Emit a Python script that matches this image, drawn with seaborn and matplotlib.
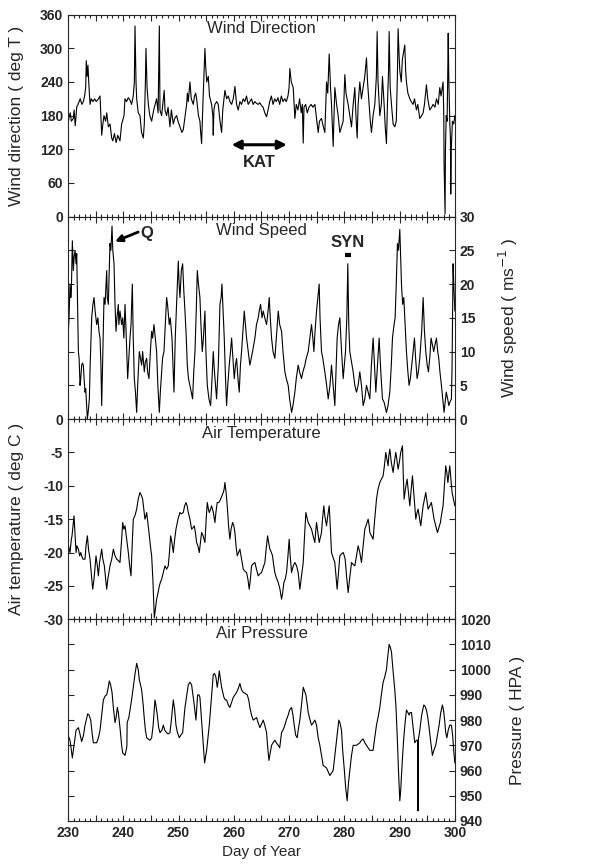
import matplotlib
matplotlib.use('Agg')
import matplotlib.pyplot as plt
import seaborn as sns
from matplotlib.ticker import MultipleLocator, FuncFormatter

# --- data (day of year, value) ---
wdir_day = [230.0, 230.2, 230.4, 230.6, 230.96, 231.1, 231.3, 231.57, 231.8, 232.0, 232.2, 232.5, 232.77, 233.0,
            233.19, 233.3, 233.45, 233.6, 233.8, 233.98, 234.2, 234.5, 234.8, 235.1, 235.5, 235.79, 236.09, 236.3,
            236.5, 236.8, 237.0, 237.3, 237.6, 237.9, 238.1, 238.4, 238.7, 239.0, 239.4, 239.7, 240.13, 240.3, 240.6,
            240.9, 241.2, 241.5, 241.8, 242.0, 242.12, 242.3, 242.42, 242.7, 243.02, 243.3, 243.62, 243.8, 244.0,
            244.1, 244.3, 244.53, 244.8, 245.13, 245.5, 246.03, 246.3, 246.52, 246.64, 246.94, 247.2, 247.4, 247.54,
            247.84, 248.1, 248.44, 248.7, 249.05, 249.3, 249.65, 249.9, 250.25, 250.6, 250.86, 251.2, 251.46, 251.6,
            251.76, 252.06, 252.3, 252.66, 252.9, 253.1, 253.27, 253.6, 253.87, 254.0, 254.17, 254.4, 254.77, 254.9,
            255.1, 255.38, 255.6, 255.98, 256.2, 256.28, 256.4, 256.58, 256.9, 257.18, 257.5, 257.79, 258.0, 258.39,
            258.7, 258.99, 259.3, 259.6, 259.9, 260.2, 260.5, 260.8, 261.1, 261.4, 261.7, 262.0, 262.3, 262.6, 262.9,
            263.2, 263.5, 263.8, 264.1, 264.4, 264.7, 265.0, 265.3, 265.6, 265.93, 266.2, 266.5, 266.8, 267.1, 267.4,
            267.7, 268.0, 268.3, 268.6, 268.9, 269.2, 269.5, 269.8, 270.0, 270.14, 270.4, 270.75, 271.05, 271.3,
            271.6, 271.9, 272.2, 272.4, 272.56, 272.7, 273.0, 273.3, 273.6, 274.0, 274.3, 274.67, 274.97, 275.27,
            275.5, 275.87, 276.2, 276.47, 276.78, 277.0, 277.26, 277.5, 277.68, 277.85, 277.98, 278.2, 278.28, 278.6,
            278.88, 279.19, 279.5, 279.79, 280.09, 280.3, 280.69, 281.0, 281.3, 281.6, 281.9, 282.1, 282.32, 282.5,
            282.8, 283.1, 283.41, 283.7, 284.01, 284.2, 284.49, 284.7, 284.91, 285.2, 285.52, 285.8, 285.94, 286.1,
            286.42, 286.7, 286.9, 287.2, 287.4, 287.62, 287.8, 288.0, 288.11, 288.3, 288.53, 288.83, 289.13, 289.4,
            289.6, 289.73, 289.9, 290.04, 290.3, 290.5, 290.94, 291.1, 291.24, 291.5, 291.85, 292.1, 292.45, 292.7,
            293.05, 293.3, 293.65, 294.0, 294.26, 294.5, 294.86, 295.1, 295.46, 295.8, 296.06, 296.4, 296.67, 297.0,
            297.27, 297.5, 297.87, 298.0, 298.05, 298.23, 298.3, 298.44, 298.6, 298.7, 298.8, 298.9, 299.08, 299.2,
            299.26, 299.35, 299.56, 299.8, 300.0]
wdir_val = [165, 178, 185, 170, 175, 190, 162, 195, 200, 205, 210, 200, 205, 215,
            230, 278, 250, 270, 230, 200, 210, 205, 210, 205, 210, 215, 145, 165,
            180, 170, 185, 160, 165, 140, 135, 148, 132, 145, 135, 165, 180, 210, 205,
            212, 208, 200, 215, 240, 340, 240, 210, 185, 180, 150, 140, 165, 240,
            300, 230, 200, 180, 170, 190, 210, 185, 340, 190, 180, 205, 225, 190,
            180, 195, 160, 190, 165, 175, 180, 170, 160, 150, 155, 180, 200, 220,
            205, 240, 210, 200, 215, 220, 210, 180, 170, 150, 130, 200, 300, 270,
            240, 250, 215, 200, 180, 145, 190, 200, 205, 200, 170, 150, 190, 225,
            210, 215, 205, 200, 210, 232, 200, 190, 205, 200, 210, 205, 215, 200, 205,
            210, 200, 205, 202, 200, 203, 198, 195, 185, 178, 190, 205, 215, 200, 210,
            205, 212, 200, 215, 205, 210, 205, 215, 230, 264, 240, 230, 175, 200,
            190, 210, 185, 200, 131, 195, 200, 185, 195, 200, 195, 200, 175, 150,
            170, 175, 160, 150, 240, 220, 290, 230, 200, 160, 125, 200, 230, 200,
            180, 150, 160, 170, 253, 220, 200, 180, 160, 200, 230, 180, 140, 200,
            240, 210, 230, 250, 283, 240, 200, 170, 150, 180, 200, 250, 330, 240,
            180, 200, 250, 200, 160, 130, 200, 260, 330, 230, 200, 165, 160, 170,
            250, 335, 290, 260, 240, 280, 306, 260, 240, 220, 210, 205, 200, 210,
            190, 200, 175, 180, 185, 200, 235, 210, 190, 195, 200, 195, 210, 200,
            230, 215, 240, 180, 94, 5, 120, 180, 170, 240, 327, 250, 170, 140,
            40, 120, 170, 165, 180]

wspd_day = [230.0, 230.18, 230.36, 230.5, 230.6, 230.78, 230.96, 231.1, 231.27, 231.45, 231.57, 231.7, 231.87, 232.0,
            232.17, 232.3, 232.47, 232.6, 232.77, 232.9, 233.07, 233.2, 233.3, 233.5, 233.7, 233.86, 234.0, 234.28,
            234.5, 234.7, 234.9, 235.18, 235.4, 235.6, 235.79, 235.95, 236.09, 236.3, 236.51, 236.7, 236.87, 237.0,
            237.1, 237.29, 237.45, 237.59, 237.75, 237.96, 238.1, 238.32, 238.5, 238.68, 238.85, 239.1, 239.2, 239.4,
            239.7, 239.9, 240.1, 240.31, 240.5, 240.79, 241.0, 241.21, 241.4, 241.63, 241.8, 241.99, 242.2, 242.42,
            242.6, 242.9, 243.1, 243.32, 243.5, 243.8, 244.0, 244.23, 244.4, 244.65, 244.9, 245.13, 245.3, 245.55,
            245.8, 246.03, 246.25, 246.52, 246.7, 246.94, 247.1, 247.36, 247.6, 247.84, 248.0, 248.32, 248.5, 248.81,
            249.0, 249.17, 249.4, 249.65, 249.8, 249.95, 250.1, 250.25, 250.5, 250.74, 250.95, 251.16, 251.4, 251.58,
            251.8, 252.06, 252.3, 252.54, 252.75, 252.97, 253.2, 253.39, 253.6, 253.87, 254.05, 254.29, 254.5, 254.77,
            254.95, 255.2, 255.5, 255.8, 256.0, 256.28, 256.5, 256.88, 257.2, 257.49, 257.7, 257.85, 258.0, 258.27,
            258.5, 258.69, 258.9, 259.17, 259.4, 259.6, 259.85, 260.08, 260.3, 260.5, 260.75, 260.98, 261.2, 261.4,
            261.65, 261.89, 262.1, 262.31, 262.6, 262.91, 263.15, 263.39, 263.6, 263.82, 264.1, 264.42, 264.6, 264.84,
            265.1, 265.32, 265.6, 265.93, 266.2, 266.41, 266.6, 266.83, 267.1, 267.43, 267.7, 268.04, 268.3, 268.64,
            268.9, 269.24, 269.5, 269.84, 270.1, 270.45, 270.7, 271.05, 271.3, 271.65, 271.9, 272.25, 272.5, 272.86,
            273.1, 273.46, 273.75, 274.06, 274.3, 274.49, 274.7, 274.97, 275.2, 275.45, 275.6, 275.87, 276.1, 276.47,
            276.8, 277.08, 277.4, 277.68, 277.98, 278.28, 278.5, 278.7, 278.95, 279.19, 279.5, 279.79, 280.0, 280.21,
            280.45, 280.63, 280.8, 280.99, 281.3, 281.6, 281.9, 282.2, 282.5, 282.8, 283.1, 283.41, 283.7, 284.01,
            284.3, 284.61, 284.9, 285.21, 285.45, 285.7, 286.0, 286.3, 286.6, 286.9, 287.2, 287.62, 287.9, 288.23,
            288.5, 288.71, 289.0, 289.19, 289.4, 289.61, 289.8, 290.04, 290.2, 290.34, 290.55, 290.76, 291.0, 291.24,
            291.5, 291.72, 291.95, 292.21, 292.45, 292.69, 292.9, 293.17, 293.4, 293.65, 294.0, 294.26, 294.5, 294.74,
            295.0, 295.22, 295.45, 295.7, 295.95, 296.18, 296.4, 296.67, 296.9, 297.09, 297.3, 297.57, 297.8, 298.05,
            298.25, 298.44, 298.7, 298.92, 299.1, 299.38, 299.5, 299.68, 299.8, 300.0]
wspd_val = [12, 15, 20, 18, 19, 26.4, 22, 24, 25, 23, 24.5, 18, 10, 9,
            5, 6, 8, 8.3, 8, 6, 4, 4.5, 3, 0, 1.5, 3, 8, 15,
            17, 18, 16, 14, 15, 13, 12, 8, 2, 10, 18, 17, 20, 22,
            18, 17, 22, 26, 25, 28.6, 25, 23, 17, 13, 15, 17, 14, 16,
            14, 15, 12, 17, 13, 6, 9, 12, 14, 20, 12, 6, 4, 1,
            5, 10, 9, 8, 10, 7, 8.5, 9, 7, 6, 10, 13, 12, 14,
            12, 10, 5, 1, 4, 7, 9, 10, 14, 18, 17, 14, 15, 12,
            8, 4, 12, 17, 20, 23.4, 20, 18, 22, 23, 19, 16, 12, 8,
            6, 5, 4, 3, 7, 10, 16, 22, 20, 18, 14, 10, 12, 16,
            10, 5, 3, 2, 5, 10, 7, 3, 8, 17, 18, 20, 17, 12,
            6, 2, 5, 8, 10, 12, 9, 6, 8, 9, 6, 4, 8, 10,
            13, 16, 14, 12, 10, 8, 9, 10, 11, 12, 14, 15, 16, 17,
            15, 16, 15, 14, 16, 18, 15, 12, 10, 9, 12, 16, 14, 13,
            10, 7, 6, 5, 3, 1, 2, 4, 6, 8, 7, 6, 7, 8,
            9, 10, 12, 14, 12, 10, 13, 16, 18, 20, 15, 10, 9, 7,
            5, 3, 5, 8, 5, 2, 7, 12, 14, 15, 10, 6, 8, 10,
            15, 23, 14, 10, 8.5, 7, 5, 4, 5, 7, 5, 2, 3, 5,
            4, 3, 8, 12, 8, 4, 8, 12, 7, 3, 2.5, 1, 2, 4,
            8, 12, 14, 15, 20, 26, 25, 28.1, 24, 20, 17, 18, 14, 10,
            7, 5, 6, 8, 10, 12, 9, 6, 7, 9, 13, 18, 13, 10,
            8, 7, 9, 12, 11, 10, 11, 12, 10, 9, 7, 5, 3, 1,
            2.5, 4, 3, 2, 2.5, 3, 8, 23, 20, 16]

temp_day = [230.0, 230.2, 230.36, 230.6, 230.72, 230.9, 231.08, 231.25, 231.45, 231.6, 231.87, 232.1, 232.3, 232.47,
            232.7, 233.07, 233.25, 233.5, 233.7, 233.98, 234.2, 234.46, 234.7, 234.9, 235.06, 235.3, 235.49, 235.7,
            236.09, 236.3, 236.57, 236.8, 236.99, 237.2, 237.59, 237.9, 238.2, 238.5, 238.8, 239.1, 239.4, 239.7,
            239.89, 240.1, 240.31, 240.6, 240.91, 241.15, 241.39, 241.6, 241.81, 242.1, 242.42, 242.7, 243.02, 243.3,
            243.5, 243.7, 243.92, 244.1, 244.23, 244.45, 244.65, 244.9, 245.13, 245.35, 245.61, 245.8, 246.03, 246.3,
            246.52, 246.7, 246.94, 247.25, 247.54, 247.84, 248.14, 248.35, 248.57, 248.8, 249.05, 249.3, 249.53,
            249.9, 250.25, 250.5, 250.86, 251.1, 251.34, 251.55, 251.76, 252.06, 252.36, 252.6, 252.84, 253.05,
            253.27, 253.5, 253.75, 253.95, 254.17, 254.45, 254.77, 255.0, 255.2, 255.4, 255.56, 255.8, 255.98, 256.3,
            256.58, 256.76, 257.0, 257.3, 257.61, 257.85, 258.09, 258.25, 258.39, 258.6, 258.81, 259.05, 259.29,
            259.5, 259.78, 260.0, 260.2, 260.4, 260.62, 260.85, 261.1, 261.4, 261.71, 262.0, 262.31, 262.55, 262.79,
            263.0, 263.21, 263.5, 263.82, 264.1, 264.42, 264.72, 265.02, 265.3, 265.62, 265.85, 266.11, 266.3,
            266.53, 266.8, 267.01, 267.2, 267.43, 267.7, 268.04, 268.35, 268.64, 268.85, 269.06, 269.3, 269.54,
            269.8, 270.02, 270.2, 270.45, 270.75, 271.05, 271.35, 271.65, 271.8, 271.95, 272.25, 272.56, 272.8,
            273.04, 273.25, 273.46, 273.75, 274.06, 274.35, 274.67, 274.8, 274.97, 275.2, 275.45, 275.65, 275.87,
            276.05, 276.29, 276.47, 276.78, 277.0, 277.26, 277.45, 277.68, 277.98, 278.28, 278.5, 278.7, 278.95,
            279.19, 279.5, 279.79, 280.0, 280.15, 280.4, 280.69, 280.95, 281.3, 281.6, 281.9, 282.2, 282.5, 282.8,
            283.1, 283.4, 283.71, 284.0, 284.31, 284.5, 284.61, 284.9, 285.21, 285.5, 285.82, 286.1, 286.42, 286.7,
            287.02, 287.25, 287.5, 287.7, 287.93, 288.05, 288.23, 288.5, 288.83, 289.05, 289.31, 289.5, 289.73,
            289.95, 290.2, 290.52, 290.65, 290.82, 291.05, 291.36, 291.6, 291.85, 292.1, 292.33, 292.6, 292.93,
            293.17, 293.35, 293.6, 293.83, 294.05, 294.26, 294.5, 294.74, 294.95, 295.16, 295.45, 295.76, 296.0,
            296.24, 296.55, 296.85, 297.1, 297.39, 297.6, 297.87, 298.1, 298.35, 298.55, 298.74, 299.08, 299.3,
            299.5, 299.75, 300.0]
temp_val = [-18.5, -19.5, -20, -18, -17.5, -16, -14.5, -17, -20, -19, -19.5, -20.5, -20, -20.5,
            -21, -21, -19, -17.5, -19.5, -21, -23, -25.5, -24, -22, -20.5, -22, -23.5, -21.5,
            -19.5, -21, -22, -24, -25.5, -24, -22, -21, -19.5, -20.5, -21, -21.2, -21.5, -18,
            -15.5, -16.5, -16, -18, -20, -22, -23.5, -19, -15, -14.5, -13.5, -12, -11, -11.5,
            -12, -13.5, -15, -14.5, -14, -15.5, -17, -19, -20.5, -24, -29.8, -28.5, -27, -26,
            -25, -24.5, -24, -23, -22, -22.5, -22, -20, -17.5, -18.5, -20, -18, -16.5,
            -15, -14, -14.2, -14, -13, -12.5, -13, -14, -15, -16.5, -16.3, -16, -17,
            -18.5, -19, -20, -18.5, -17, -17.5, -18.5, -15, -12.5, -13.5, -14, -13.5, -13, -14,
            -15.5, -14, -12.5, -12.5, -12, -11.5, -11, -10.5, -9.5, -11, -13, -16, -18,
            -16.5, -15.5, -16, -17, -19, -20.5, -20, -19.5, -21, -22.5, -22.8, -23, -24, -25.5,
            -24, -22, -21.7, -21.5, -22.5, -23.5, -23.2, -23, -22.3, -21.5, -19.5, -17.5, -18.5,
            -19.5, -20, -20.5, -21.8, -23, -23.8, -24.5, -25.5, -27, -26, -24.5, -24, -23,
            -20.5, -18, -20.5, -23, -22, -21.5, -22, -23, -24.2, -25.5, -23.5, -21.5, -17.5,
            -14, -14.8, -15.5, -16, -16.5, -17.5, -18.5, -17, -15.5, -17, -18.5, -17.8, -17,
            -15, -13, -14.5, -16, -14.5, -13, -16, -20, -20.8, -21.5, -23.5, -25.5, -23,
            -20.5, -20.2, -20, -20.5, -21, -23.5, -26, -24, -21.5, -21.8, -22, -20.5, -19, -20,
            -21.5, -19, -16.5, -15.8, -15, -16, -17, -17.5, -18, -15, -12, -10.5, -9.5, -9,
            -8.5, -7, -5, -6, -7, -5.5, -4.5, -6.5, -8, -6.5, -5, -6, -7.5,
            -6.5, -5, -4, -8, -12, -10.5, -9, -11, -13, -10.5, -8.5, -11.5, -15,
            -14, -13.5, -14.8, -16, -14.5, -13, -12, -11, -12.3, -13.5, -13, -12.5, -13.8,
            -15, -16, -17, -16.3, -15.5, -14.3, -13, -10, -7, -8, -9.5, -7, -9,
            -11, -12, -13]

pres_day = [230.0, 230.36, 230.6, 230.78, 231.08, 231.45, 231.87, 232.1, 232.47, 232.8, 233.07, 233.3, 233.56, 233.8,
            234.1, 234.35, 234.58, 235.18, 235.5, 235.79, 236.1, 236.39, 236.7, 236.99, 237.2, 237.47, 237.7, 237.96,
            238.2, 238.5, 238.7, 238.92, 239.1, 239.4, 239.7, 239.89, 240.31, 240.6, 240.65, 240.7, 241.0, 241.21,
            241.5, 241.81, 242.1, 242.42, 242.7, 242.9, 243.32, 243.6, 243.74, 244.0, 244.23, 244.5, 244.83, 245.13,
            245.4, 245.73, 245.9, 246.15, 246.4, 246.64, 247.0, 247.24, 247.5, 247.84, 248.1, 248.44, 248.7, 249.05,
            249.3, 249.53, 249.8, 250.13, 250.4, 250.74, 251.16, 251.5, 251.76, 252.06, 252.36, 252.6, 252.78, 253.15,
            253.45, 253.7, 253.87, 254.1, 254.29, 254.5, 254.71, 255.08, 255.56, 255.98, 256.28, 256.5, 256.76, 257.0,
            257.2, 257.37, 257.6, 257.79, 258.21, 258.45, 258.69, 259.0, 259.29, 259.6, 259.9, 260.2, 260.5, 260.8,
            261.1, 261.4, 261.71, 262.1, 262.43, 262.7, 262.91, 263.2, 263.51, 263.8, 264.12, 264.4, 264.72, 265.02,
            265.32, 265.6, 265.93, 266.1, 266.35, 266.6, 266.83, 267.1, 267.43, 267.7, 268.04, 268.3, 268.64, 269.0,
            269.24, 269.5, 269.84, 270.1, 270.45, 270.7, 270.93, 271.2, 271.47, 271.65, 271.95, 272.25, 272.56, 272.8,
            273.04, 273.3, 273.46, 273.8, 274.06, 274.4, 274.67, 274.97, 275.27, 275.57, 275.87, 276.17, 276.5,
            276.78, 277.08, 277.38, 277.68, 277.98, 278.28, 278.58, 279.0, 279.2, 279.49, 279.7, 279.97, 280.25,
            280.51, 280.75, 280.99, 281.3, 281.6, 281.9, 282.2, 282.5, 282.8, 283.1, 283.41, 283.7, 284.01, 284.3,
            284.61, 284.91, 285.21, 285.5, 285.82, 286.1, 286.42, 286.7, 287.02, 287.3, 287.62, 287.85, 288.11,
            288.3, 288.53, 288.8, 289.13, 289.35, 289.55, 289.8, 290.04, 290.2, 290.34, 290.55, 290.76, 291.0,
            291.24, 291.5, 291.72, 291.9, 292.15, 292.45, 292.75, 293.05, 293.3, 293.34, 293.37, 293.6, 293.77,
            294.0, 294.38, 294.6, 294.86, 295.1, 295.34, 295.6, 295.94, 296.2, 296.54, 296.85, 297.15, 297.45,
            297.75, 297.95, 298.15, 298.35, 298.56, 298.8, 299.08, 299.38, 299.6, 299.8, 300.0]
pres_val = [974, 972, 968, 965, 970, 976, 977, 975, 971.5, 974, 978, 980, 982.5, 982,
            980, 975, 971, 971, 973, 976, 982, 988, 989.5, 990, 992, 995.5, 994, 991,
            985, 979, 981, 985, 983, 977, 970, 967, 966, 969, 970, 979, 981, 984,
            988, 993, 998, 1002.5, 1000, 996, 992, 986, 982, 976, 973, 972.5, 972, 973,
            978, 988, 986, 982, 977, 975, 976, 978, 976, 975, 974.5, 975, 980, 988,
            984, 978, 975, 973, 974, 975, 985, 990, 994, 995, 994, 990, 987, 980,
            990, 990, 989, 982, 976, 970, 963, 968, 978, 990, 998, 998.5, 997, 993,
            996, 999.5, 996, 993, 989, 988, 988, 986, 985, 987, 989, 990, 991, 992.5,
            994.5, 992, 991, 990.5, 990, 988, 985, 982, 980, 980.5, 981, 979, 977, 978.5,
            980, 978, 975, 970, 964, 967, 970, 971, 972, 971, 970, 969, 975, 976.5,
            978, 980, 982, 984, 985, 982, 978, 974, 973, 976, 980, 986, 993, 991.5,
            990, 986, 983, 980, 978, 979, 980, 978, 973, 970, 966, 962, 961.5,
            961, 959.5, 958, 959, 960, 966, 972, 980, 979, 976, 968, 961, 953,
            948, 955, 960, 966, 970, 970, 970, 970.5, 971, 972, 972.5, 971, 970, 969,
            968, 968, 968, 973, 978, 981, 985, 990, 995, 997, 1000, 1005, 1010,
            1009, 1007, 1000, 992, 985, 975, 960, 948, 952, 958, 966, 973, 979,
            984, 983, 982, 983, 983, 977, 971, 972, 972, 944, 972, 975, 978,
            982, 986, 985.5, 984, 981, 977, 972, 966, 968, 970, 974, 978, 983,
            986, 984, 980, 975, 973, 976, 978, 978, 974, 968, 963]

titles = ['Wind Direction', 'Wind Speed', 'Air Temperature', 'Air Pressure']
ylabels = ['Wind direction ( deg T )', 'Wind speed ( ms$^{-1}$ )',
           'Air temperature ( deg C )', 'Pressure ( HPA )']
ylims = [(0, 360), (0, 30), (-30, 0), (940, 1020)]
ysteps = [60, 5, 5, 10]
label_side = ['left', 'right', 'left', 'right']
label_x = [-0.115, 1.108, -0.115, 1.142]

sns.set_style('ticks')
plt.rcParams['font.family'] = ['Liberation Sans', 'DejaVu Sans']
plt.rcParams['axes.unicode_minus'] = False

fig = plt.figure(figsize=(6.13, 8.66), dpi=100)
bottoms = [0.750, 0.516, 0.285, 0.052]
heights = [0.233, 0.234, 0.231, 0.233]
series = [(wdir_day, wdir_val), (wspd_day, wspd_val), (temp_day, temp_val), (pres_day, pres_val)]

axes = []
for i in range(4):
    ax = fig.add_axes([0.111, bottoms[i], 0.631, heights[i]])
    days, vals = series[i]
    sns.lineplot(x=days, y=vals, ax=ax, color='black', linewidth=0.8, sort=False, estimator=None)
    ax.set_xlim(230, 300)
    ax.set_ylim(*ylims[i])
    ax.yaxis.set_major_locator(MultipleLocator(ysteps[i]))
    ax.xaxis.set_major_locator(MultipleLocator(5))
    ax.xaxis.set_minor_locator(MultipleLocator(1))
    ax.xaxis.set_major_formatter(FuncFormatter(lambda v, p: '%d' % v if v % 10 == 0 else ''))
    ax.tick_params(which='both', direction='in', top=True, bottom=True, left=True, right=True,
                   labelbottom=(i == 3), labelleft=(label_side[i] == 'left'),
                   labelright=(label_side[i] == 'right'), labelsize=10, width=0.8)
    ax.tick_params(which='major', length=4)
    ax.tick_params(which='minor', length=2)
    for lab in ax.get_xticklabels() + ax.get_yticklabels():
        lab.set_fontweight('bold')
    for sp in ax.spines.values():
        sp.set_linewidth(0.8)
    ax.text(0.5, 0.93, titles[i], transform=ax.transAxes, ha='center', va='center', fontsize=12)
    if label_side[i] == 'right':
        ax.yaxis.set_label_position('right')
        ax.set_ylabel(ylabels[i], fontsize=12.5, rotation=90)
    else:
        ax.set_ylabel(ylabels[i], fontsize=12.5)
    ax.yaxis.set_label_coords(label_x[i], 0.5)
    ax.set_xlabel('')
    axes.append(ax)

axes[3].set_xlabel('Day of Year', fontsize=11)
for lab in axes[3].get_xticklabels():
    lab.set_fontweight('bold')

# annotations
axes[0].annotate('', xy=(259.6, 128), xytext=(269.6, 128),
                 arrowprops=dict(arrowstyle='<|-|>', color='black', lw=2.2, mutation_scale=13,
                                 shrinkA=0, shrinkB=0))
axes[0].text(264.6, 97, 'KAT', ha='center', va='center', fontsize=12, fontweight='bold')
axes[1].annotate('', xy=(238.5, 26.3), xytext=(242.7, 27.7),
                 arrowprops=dict(arrowstyle='-|>', color='black', lw=2, mutation_scale=10,
                                 shrinkA=0, shrinkB=0))
axes[1].text(244.3, 27.5, 'Q', ha='center', va='center', fontsize=12, fontweight='bold')
axes[1].text(280.6, 26.2, 'SYN', ha='center', va='center', fontsize=12, fontweight='bold')
axes[1].plot([280.1, 281.2], [24.3, 24.3], color='black', lw=3, solid_capstyle='butt')

fig.savefig('out.png', dpi=100)
